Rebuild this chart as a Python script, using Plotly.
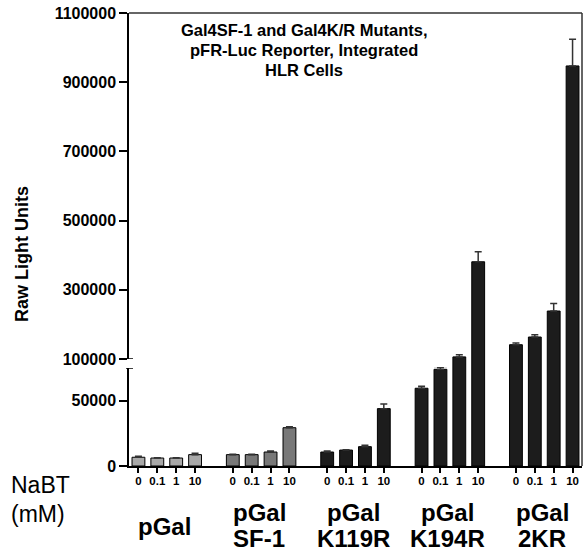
import plotly.graph_objects as go

# ---- data ----
constructs_top = ["", "pGal", "pGal", "pGal", "pGal"]
constructs_bottom = ["", "SF-1", "K119R", "K194R", "2KR"]
constructs_single = ["pGal", "", "", "", ""]
doses = ["0", "0.1", "1", "10"]
rlu_pgal = [6700, 6100, 6100, 8700]
rlu_sf1 = [8700, 8700, 10700, 29300]
rlu_k119r = [10700, 12200, 14800, 43900]
rlu_k194r = [59500, 74000, 106000, 381000]
rlu_2kr = [141300, 163500, 238600, 947000]
err_pgal = [700, 300, 300, 1000]
err_sf1 = [300, 300, 800, 800]
err_k119r = [700, 300, 1000, 3600]
err_k194r = [1500, 2000, 6000, 29000]
err_2kr = [5000, 6500, 22000, 77000]
group_colors = ["#a9a9a9", "#787878", "#1c1c1c", "#1c1c1c", "#1c1c1c"]
lower_ticks = [0, 50000]
upper_ticks = [100000, 300000, 500000, 700000, 900000, 1100000]
title_lines = ["Gal4SF-1 and Gal4K/R Mutants,", "pFR-Luc Reporter, Integrated", "HLR Cells"]

values_by_group = [rlu_pgal, rlu_sf1, rlu_k119r, rlu_k194r, rlu_2kr]
errors_by_group = [err_pgal, err_sf1, err_k119r, err_k194r, err_2kr]

xs, ys, es, cols, tlabels = [], [], [], [], []
for g, (vals, errs) in enumerate(zip(values_by_group, errors_by_group)):
    for j, (v, e) in enumerate(zip(vals, errs)):
        xs.append(5 * g + j)
        ys.append(v)
        es.append(e)
        cols.append(group_colors[g])
        tlabels.append(doses[j])

FONT = "Liberation Sans, Arial, sans-serif"
W, H = 584, 552
ML, MR, MT, MB = 129, 2, 13, 86
PW = W - ML - MR
PH = H - MT - MB
lower_top = (466 - 368) / PH
upper_bot = (466 - 359) / PH


def py(pix):
    """pixel row -> paper y"""
    return (H - MB - pix) / PH


def px(pix):
    return (pix - ML) / PW


fig = go.Figure()
for yax in ["y", "y2", "y3"]:
    fig.add_trace(go.Bar(
        x=xs, y=ys, yaxis=yax, width=0.68,
        marker=dict(color=cols, line=dict(color="#000000", width=1)),
        error_y=dict(type="data", array=es, arrayminus=[0] * len(es), symmetric=False,
                     color="#333333", thickness=1.5, width=3.5),
        showlegend=False, hoverinfo="skip",
    ))

axis_line = dict(showline=True, linecolor="#000000", linewidth=1.5, ticks="outside",
                 tickcolor="#000000", tickwidth=1.5, showgrid=False, zeroline=False)

fig.update_layout(
    width=W, height=H,
    margin=dict(l=ML, r=MR, t=MT, b=MB, pad=0),
    paper_bgcolor="white", plot_bgcolor="white",
    font=dict(family=FONT, color="#000000"),
    bargap=0.3,
    xaxis=dict(range=[-0.5, 23.5], tickvals=xs, ticktext=["<b>%s</b>" % t for t in tlabels],
               tickfont=dict(size=11.5), ticklen=5, ticklabelstandoff=-2, anchor="y",
               **axis_line),
    yaxis=dict(domain=[0, lower_top], range=[0, 75000], tickvals=lower_ticks,
               ticktext=["<b>%d</b>" % v for v in lower_ticks], tickfont=dict(size=16),
               ticklen=8, anchor="x", **axis_line),
    yaxis2=dict(domain=[lower_top, upper_bot], range=[75000, 100000], visible=False, anchor="x"),
    yaxis3=dict(domain=[upper_bot, 1], range=[100000, 1100000], tickvals=upper_ticks,
                ticktext=["<b>%d</b>" % v for v in upper_ticks], tickfont=dict(size=16),
                ticklen=8, anchor="x", **axis_line),
)

# frame lines (top and right) and axis-break caps
fig.add_shape(type="line", xref="paper", yref="paper", x0=0, x1=1, y0=1, y1=1,
              line=dict(color="#333333", width=1.5))
fig.add_shape(type="line", xref="paper", yref="paper", x0=1, x1=1, y0=0, y1=1,
              line=dict(color="#333333", width=1.5))
fig.add_shape(type="line", xref="paper", yref="y", x0=-3 / PW, x1=4 / PW, y0=75000, y1=75000,
              line=dict(color="#000000", width=1.5))
fig.add_shape(type="line", xref="paper", yref="y3", x0=0, x1=4 / PW, y0=100000, y1=100000,
              line=dict(color="#000000", width=1.5))

# title
for i, line in enumerate(title_lines):
    fig.add_annotation(text="<b>%s</b>" % line, xref="paper", yref="paper",
                       x=px(304), y=py(30 + 20 * i),
                       xanchor="center", yanchor="middle", showarrow=False,
                       font=dict(size=16.5))

# y title
fig.add_annotation(text="<b>Raw Light Units</b>", xref="paper", yref="paper",
                   x=px(22), y=py(254), textangle=-90,
                   xanchor="center", yanchor="middle", showarrow=False, font=dict(size=18))

# NaBT label
fig.add_annotation(text="NaBT", xref="paper", yref="paper", x=px(9),
                   y=py(485), xanchor="left", yanchor="middle",
                   showarrow=False, font=dict(size=23))
fig.add_annotation(text="(mM)", xref="paper", yref="paper", x=px(9),
                   y=py(514), xanchor="left", yanchor="middle",
                   showarrow=False, font=dict(size=23))

# group labels
for g in range(len(constructs_top)):
    xc = 5 * g + 1.4
    if constructs_single[g]:
        fig.add_annotation(text="<b>%s</b>" % constructs_single[g], xref="x", yref="paper",
                           x=xc, y=py(526), xanchor="center", yanchor="middle",
                           showarrow=False, font=dict(size=24))
    if constructs_top[g]:
        fig.add_annotation(text="<b>%s</b>" % constructs_top[g], xref="x", yref="paper",
                           x=xc, y=py(512), xanchor="center", yanchor="middle",
                           showarrow=False, font=dict(size=24))
    if constructs_bottom[g]:
        fig.add_annotation(text="<b>%s</b>" % constructs_bottom[g], xref="x", yref="paper",
                           x=xc, y=py(538), xanchor="center", yanchor="middle",
                           showarrow=False, font=dict(size=24))

fig.write_html("out.html", config={"displayModeBar": False},
               post_script="document.body.style.margin='0px';")
